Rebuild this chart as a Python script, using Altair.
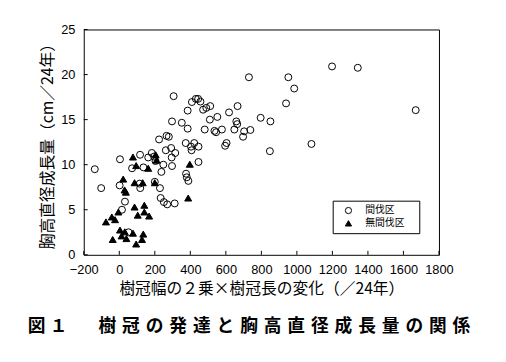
import altair as alt
import pandas as pd

groups = ["間伐区", "無間伐区"]

thinned_x = [-138, -102, 4, 2, 15, 32, 52, 72, 117, 115, 118, 136, 163, 183, 196, 204,
             200, 224, 229, 233, 237, 248, 251, 270, 266, 279, 262, 292, 295, 297, 315,
             297, 306, 312, 352, 376, 380, 389, 374, 385, 385, 404, 407, 422, 446, 446,
             409, 431, 444, 457, 472, 490, 512, 481, 510, 536, 545, 552, 578, 596, 604,
             618, 648, 659, 664, 666, 697, 703, 738, 730, 796, 851, 848, 952, 985, 939,
             1198, 1343, 1082, 1669]
thinned_y = [9.5, 7.4, 10.6, 7.7, 5.0, 5.9, 2.5, 9.6, 11.1, 7.9, 7.4, 9.7, 10.8, 11.3, 10.9, 10.4,
             8.1, 12.8, 7.4, 6.3, 9.2, 10.0, 5.85, 5.6, 13.2, 13.1, 11.6, 11.85, 10.8, 9.85, 11.3,
             14.8, 17.6, 5.7, 14.65, 9.0, 8.6, 8.2, 12.4, 14.0, 16.0, 12.0, 11.6, 12.4, 12.0, 10.3,
             16.95, 17.3, 17.3, 17.0, 16.1, 16.3, 16.5, 13.9, 15.0, 13.75, 13.6, 15.3, 13.9, 12.1, 12.4,
             15.8, 13.9, 14.8, 14.5, 16.5, 13.1, 13.7, 13.85, 19.7, 15.2, 14.8, 11.5, 19.7, 18.45, 16.8,
             20.9, 20.75, 12.3, 16.05]

unthinned_x = [-75, -42, -24, -5, 4, 31, -37, 13, 40, 77, 95, 128, 135, 22, 37, 30,
               77, 95, 163, 86, 132, 86, 104, 141, 141, 168, 397, 388, 205, 210, 200]
unthinned_y = [3.65, 4.2, 3.9, 4.75, 2.75, 2.55, 1.7, 2.1, 1.8, 2.4, 1.2, 1.7, 2.3, 8.4, 6.95, 7.2,
               10.85, 9.9, 9.6, 8.0, 8.0, 5.3, 4.4, 5.5, 4.75, 4.3, 10.05, 6.3, 11.1, 10.5, 8.0]

x_ticks = [-200, 0, 200, 400, 600, 800, 1000, 1200, 1400, 1600, 1800]
y_ticks = [0, 5, 10, 15, 20, 25]

x_title = "樹冠幅の２乗×樹冠長の変化（／24年）"
y_title = "胸高直径成長量（cm／24年）"
caption = "図\u2005１\u3000\u2002\u2005" + "\u2004".join("樹冠の発達と胸高直径成長量の関係")

df = pd.DataFrame({
    "x": thinned_x + unthinned_x,
    "y": thinned_y + unthinned_y,
    "g": [groups[0]] * len(thinned_x) + [groups[1]] * len(unthinned_x),
})
xt_df = pd.DataFrame({"x": x_ticks})
yt_df = pd.DataFrame({"y": y_ticks})

W, H = 361, 229
xs = alt.Scale(domain=[-200, 1800], nice=False, zero=False)
ys = alt.Scale(domain=[0, 25], nice=False)

x_axis = alt.Axis(values=x_ticks, format="d", ticks=False, domain=False, grid=False, labelPadding=9,
                  labelFlush=False, labelOverlap=False, titlePadding=4)
y_axis = alt.Axis(values=y_ticks, format="d", ticks=False, domain=False, grid=False, labelPadding=9,
                  labelFlush=False, titlePadding=5)

leg = alt.Legend(
    orient="none", legendX=253, legendY=174, title=None,
    strokeColor="black", fillColor="white", padding=5,
    symbolSize=40, symbolStrokeWidth=1, symbolStrokeColor="black",
    symbolOffset=6, labelOffset=12, rowPadding=2,
    labelFont="Noto Sans CJK JP", labelFontSize=10, labelColor="black",
    labelExpr="datum.label + '\u3000\u200b'",
)

points = alt.Chart(df).mark_point(filled=False, strokeWidth=1, size=50, opacity=1).encode(
    x=alt.X("x:Q", scale=xs, title=x_title, axis=x_axis),
    y=alt.Y("y:Q", scale=ys, title=y_title, axis=y_axis),
    shape=alt.Shape("g:N", scale=alt.Scale(domain=groups, range=["circle", "triangle-up"]), legend=leg),
    fill=alt.Fill("g:N", scale=alt.Scale(domain=groups, range=["transparent", "black"]), legend=leg),
    stroke=alt.Stroke("g:N", scale=alt.Scale(domain=groups, range=["black", "black"]), legend=leg),
)

xt = alt.Chart(xt_df).mark_rule(color="black", strokeWidth=1).encode(
    x=alt.X("x:Q", scale=xs, title=x_title, axis=x_axis),
    y=alt.value(H - 4), y2=alt.value(H),
)
yt = alt.Chart(yt_df).mark_rule(color="black", strokeWidth=1).encode(
    y=alt.Y("y:Q", scale=ys, title=y_title, axis=y_axis),
    x=alt.value(0), x2=alt.value(4),
)

chart = alt.layer(points, xt, yt).properties(
    width=W, height=H,
    padding={"left": 77, "top": 19, "right": 60, "bottom": 100},
    autosize=alt.AutoSizeParams(type="none"),
    title=alt.Title(text=caption, orient="bottom", anchor="start", frame="group",
                    font="Noto Sans CJK JP", fontSize=18, fontWeight="bold", color="black",
                    offset=22, dx=-57),
).configure_view(stroke="black", strokeWidth=1).configure_axis(
    labelFont="Liberation Sans", labelFontSize=13, labelColor="black",
    titleFont="Noto Sans CJK JP", titleFontSize=16, titleFontWeight="normal", titleColor="black",
)

chart.save("out.html", embed_options={"renderer": "svg", "actions": False})
